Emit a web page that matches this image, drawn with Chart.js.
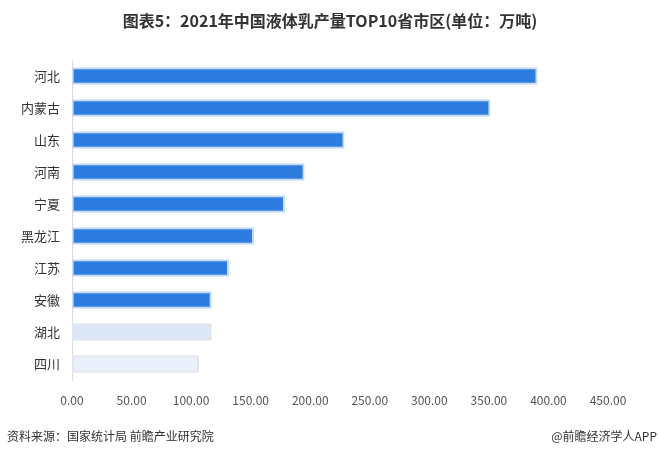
<!DOCTYPE html>
<html>
<head>
<meta charset="utf-8">
<script src="https://cdn.jsdelivr.net/npm/chart.js@4"></script>
<style>
  html, body { margin:0; padding:0; background:#fff; }
  #wrap { position:relative; width:660px; height:458px; overflow:hidden; font-family:"Noto Sans CJK SC","Noto Sans",sans-serif; }
  #title { position:absolute; left:0; top:8px; width:660px; text-align:center; font-size:16px; font-weight:bold; color:#333; }
  #src { position:absolute; left:7px; top:427px; font-size:12px; color:#333; }
  #brand { position:absolute; right:3px; top:427px; font-size:12px; color:#333; }
  canvas { position:absolute; left:0; top:0; }
</style>
</head>
<body>
<div id="wrap">
  <canvas id="c" width="660" height="458"></canvas>
  <div id="title">图表5：2021年中国液体乳产量TOP10省市区(单位：万吨)</div>
  <div id="src">资料来源：国家统计局 前瞻产业研究院</div>
  <div id="brand">@前瞻经济学人APP</div>
</div>
<script>
const categories = ["河北","内蒙古","山东","河南","宁夏","黑龙江","江苏","安徽","湖北","四川"];
const production = [390.5, 351, 228.5, 195, 178.5, 152.5, 131.5, 117, 117, 106.5];
const xTicks = [0,50,100,150,200,250,300,350,400,450];

const fills = categories.map((c,i)=> i===8 ? "#dbe6f7" : i===9 ? "#e9f0fb" : "#2f7ce0");
const borders = categories.map((c,i)=> i>=8 ? "#e2e4e8" : "#c3dcf6");

new Chart(document.getElementById("c"), {
  type: "bar",
  data: {
    labels: categories,
    datasets: [{
      data: production,
      backgroundColor: fills,
      borderColor: borders,
      borderWidth: 2,
      borderSkipped: false,
      barThickness: 17
    }]
  },
  options: {
    indexAxis: "y",
    responsive: false,
    animation: false,
    layout: { padding: { top: 60, right: 52, left: 0, bottom: 0 } },
    plugins: { legend: { display:false }, tooltip: { enabled:false }, title: { display:false } },
    scales: {
      x: {
        min: 0, max: 450,
        afterBuildTicks: s => { s.ticks = xTicks.map(v=>({value:v})); },
        afterFit: s => { s.height = 78; },
        grid: { display:false, drawTicks:false },
        border: { display:false },
        ticks: { padding: 13, color:"#555", font:{ size:12, family:"'Noto Sans CJK SC','Noto Sans',sans-serif" },
                 callback: v => Number(v).toFixed(2) }
      },
      y: {
        afterFit: s => { s.width = 72; },
        grid: { display:false, drawTicks:false },
        border: { display:true, color:"#dcdcdc", width:1 },
        ticks: { padding: 12, color:"#333", font:{ size:13, family:"'Noto Sans CJK SC','Noto Sans',sans-serif" } }
      }
    }
  }
});
</script>
</body>
</html>
